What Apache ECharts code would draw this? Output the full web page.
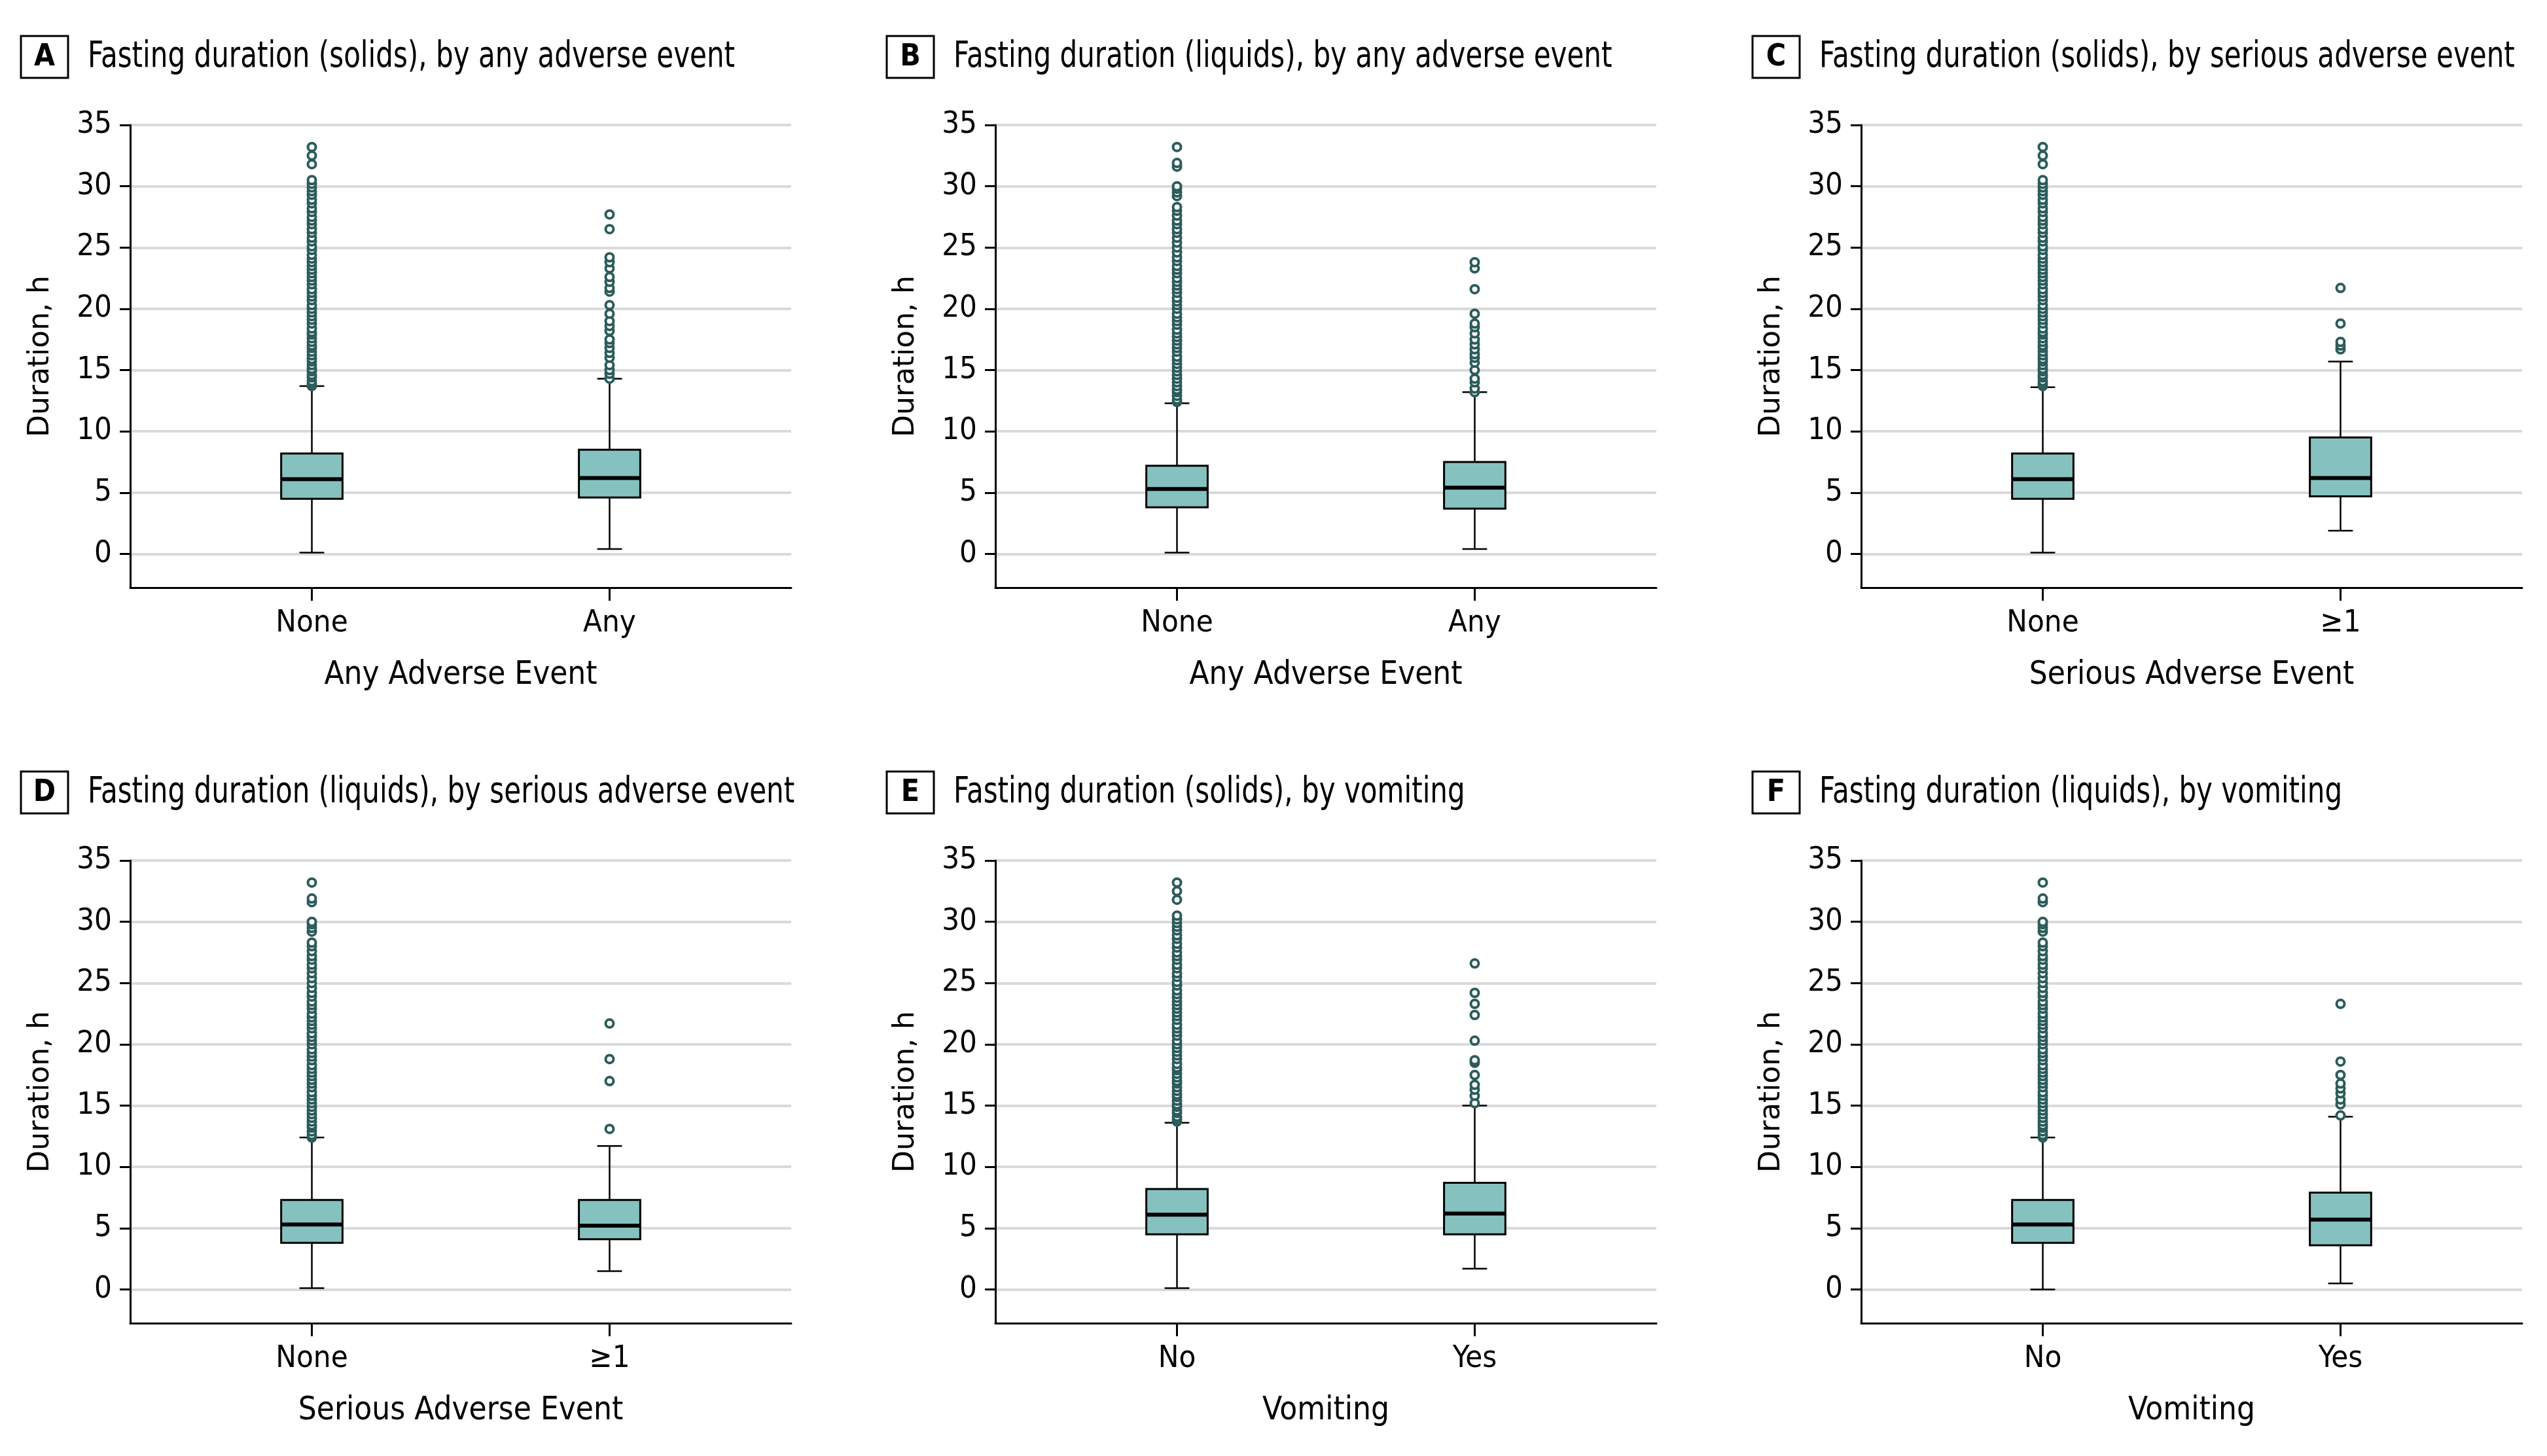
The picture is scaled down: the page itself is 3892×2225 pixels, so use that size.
<!DOCTYPE html>
<html>
<head>
<meta charset="utf-8">
<title>Fasting duration by adverse events</title>
<script src="https://cdn.jsdelivr.net/npm/echarts@6/dist/echarts.min.js"></script>
<style>
  html, body { margin: 0; padding: 0; background: #fff; }
  #chart { width: 3892px; height: 2225px; }
</style>
</head>
<body>
<div id="chart"></div>
<script>
// categories
const catsAny = ['None', 'Any']
const catsSerious = ['None', '≥1']
const catsVomit = ['No', 'Yes']
const yTicks = [0, 5, 10, 15, 20, 25, 30, 35]

// box stats per group: [lower whisker, Q1, median, Q3, upper whisker]
const boxA = [[0.1, 4.5, 6.1, 8.2, 13.7], [0.4, 4.6, 6.2, 8.5, 14.3]]
const boxB = [[0.1, 3.8, 5.3, 7.2, 12.3], [0.4, 3.7, 5.4, 7.5, 13.2]]
const boxC = [[0.1, 4.5, 6.1, 8.2, 13.6], [1.9, 4.7, 6.2, 9.5, 15.7]]
const boxD = [[0.1, 3.8, 5.3, 7.3, 12.4], [1.5, 4.1, 5.2, 7.3, 11.7]]
const boxE = [[0.1, 4.5, 6.1, 8.2, 13.6], [1.7, 4.5, 6.2, 8.7, 15.0]]
const boxF = [[0.0, 3.8, 5.3, 7.3, 12.4], [0.5, 3.6, 5.7, 7.9, 14.1]]

// outliers
const solidsNoneOut = [13.7, 13.9, 14.1, 14.4, 14.6, 14.9, 15.1, 15.4, 15.7, 15.9, 16.2, 16.5, 16.8, 17.0,
  17.3, 17.6, 17.9, 18.1, 18.4, 18.8, 19.1, 19.4, 19.7, 20.0, 20.3, 20.7, 21.0, 21.3, 21.6, 22.0, 22.3,
  22.6, 22.9, 23.2, 23.5, 23.8, 24.1, 24.4, 24.8, 25.1, 25.5, 25.8, 26.2, 26.5, 26.9, 27.2, 27.5, 27.9,
  28.2, 28.6, 28.9, 29.3, 29.6, 29.9, 30.2, 30.5, 31.8, 32.5, 33.2]
const liquidsNoneOut = [12.4, 12.6, 12.9, 13.2, 13.4, 13.7, 14.0, 14.3, 14.6, 14.9, 15.2, 15.5, 15.8, 16.1,
  16.5, 16.8, 17.1, 17.4, 17.7, 18.0, 18.3, 18.7, 19.0, 19.3, 19.6, 20.0, 20.3, 20.6, 20.9, 21.3, 21.6,
  21.9, 22.2, 22.5, 22.9, 23.2, 23.5, 23.9, 24.2, 24.6, 25.0, 25.4, 25.8, 26.2, 26.5, 26.9, 27.2, 27.6,
  28.0, 28.3, 29.2, 29.5, 29.8, 30.0, 31.6, 31.9, 33.2]
const outAAny = [14.3, 14.7, 15.0, 15.4, 16.0, 16.4, 16.8, 17.2, 17.5, 18.2, 18.6, 19.0, 19.6, 20.3,
  21.4, 21.7, 22.2, 22.6, 23.3, 23.8, 24.2, 26.5, 27.7]
const outBAny = [13.2, 13.5, 14.0, 14.3, 15.0, 15.6, 16.0, 16.3, 16.7, 17.1, 17.5, 18.0, 18.5, 18.8,
  19.6, 21.6, 23.3, 23.8]
const outCSerious = [16.7, 17.0, 17.3, 18.8, 21.7]
const outDSerious = [13.1, 17.0, 18.8, 21.7]
const outEYes = [15.2, 15.8, 16.3, 16.7, 17.5, 18.5, 18.7, 20.3, 22.4, 23.3, 24.2, 26.6]
const outFYes = [14.2, 15.1, 15.5, 16.0, 16.4, 16.8, 17.5, 18.6, 23.3]

const panels = [
  { letter: 'A', title: 'Fasting duration (solids), by any adverse event', xName: 'Any Adverse Event', cats: catsAny, box: boxA, out: [solidsNoneOut, outAAny] },
  { letter: 'B', title: 'Fasting duration (liquids), by any adverse event', xName: 'Any Adverse Event', cats: catsAny, box: boxB, out: [liquidsNoneOut, outBAny] },
  { letter: 'C', title: 'Fasting duration (solids), by serious adverse event', xName: 'Serious Adverse Event', cats: catsSerious, box: boxC, out: [solidsNoneOut, outCSerious] },
  { letter: 'D', title: 'Fasting duration (liquids), by serious adverse event', xName: 'Serious Adverse Event', cats: catsSerious, box: boxD, out: [liquidsNoneOut, outDSerious] },
  { letter: 'E', title: 'Fasting duration (solids), by vomiting', xName: 'Vomiting', cats: catsVomit, box: boxE, out: [solidsNoneOut, outEYes] },
  { letter: 'F', title: 'Fasting duration (liquids), by vomiting', xName: 'Vomiting', cats: catsVomit, box: boxF, out: [liquidsNoneOut, outFYes] }
]

const FONT = "'DejaVu Sans Condensed', 'Liberation Sans Narrow', sans-serif"
const BOX_W = 0.206
const CAP_W = 0.083
const colLeft = [199, 1521, 2844]
const rowTop = [191, 1315]
const plotW = 1010
const plotH = 707

function renderBox(params, api) {
  const x = api.value(0)
  const lo = api.coord([x, api.value(1)])
  const q1 = api.coord([x, api.value(2)])
  const md = api.coord([x, api.value(3)])
  const q3 = api.coord([x, api.value(4)])
  const hi = api.coord([x, api.value(5)])
  const half = api.size([BOX_W, 0])[0] / 2
  const cap = api.size([CAP_W, 0])[0] / 2
  const cx = lo[0]
  const ln = { stroke: '#000', lineWidth: 2.5 }
  return {
    type: 'group',
    children: [
      { type: 'line', shape: { x1: cx, y1: lo[1], x2: cx, y2: q1[1] }, style: ln },
      { type: 'line', shape: { x1: cx, y1: q3[1], x2: cx, y2: hi[1] }, style: ln },
      { type: 'line', shape: { x1: cx - cap, y1: lo[1], x2: cx + cap, y2: lo[1] }, style: ln },
      { type: 'line', shape: { x1: cx - cap, y1: hi[1], x2: cx + cap, y2: hi[1] }, style: ln },
      { type: 'rect', shape: { x: cx - half, y: q3[1], width: half * 2, height: q1[1] - q3[1] },
        style: { fill: '#85c2bf', stroke: '#000', lineWidth: 3 } },
      { type: 'line', shape: { x1: cx - half, y1: md[1], x2: cx + half, y2: md[1] },
        style: { stroke: '#000', lineWidth: 6 } }
    ]
  }
}

const grid = []
const xAxis = []
const yAxis = []
const series = []
const graphic = []

panels.forEach((p, i) => {
  const col = i % 3
  const row = Math.floor(i / 3)
  grid.push({ left: colLeft[col], top: rowTop[row], width: plotW, height: plotH })
  xAxis.push({
    gridIndex: i,
    type: 'value',
    min: -0.61,
    max: 1.61,
    name: p.xName,
    nameLocation: 'middle',
    nameGap: 110,
    nameTextStyle: { fontSize: 49, color: '#000', fontFamily: FONT },
    axisLine: { onZero: false, lineStyle: { color: '#000', width: 3 } },
    axisTick: { customValues: [0, 1], length: 20, lineStyle: { color: '#000', width: 3 } },
    axisLabel: {
      customValues: [0, 1],
      fontSize: 47,
      color: '#000',
      fontFamily: FONT,
      margin: 31,
      formatter: v => p.cats[Math.round(v)]
    },
    splitLine: { show: false }
  })
  yAxis.push({
    gridIndex: i,
    type: 'value',
    min: -2.75,
    max: 35,
    name: 'Duration, h',
    nameLocation: 'middle',
    nameRotate: 90,
    nameGap: 114,
    nameTextStyle: { fontSize: 44, color: '#000', fontFamily: 'DejaVu Sans' },
    axisLine: { onZero: false, lineStyle: { color: '#000', width: 3 } },
    axisTick: { customValues: yTicks, length: 16, lineStyle: { color: '#000', width: 3 } },
    axisLabel: { customValues: yTicks, fontSize: 47, color: '#000', fontFamily: FONT, margin: 28 },
    splitLine: { show: true, lineStyle: { color: '#dadada', width: 4 } }
  })
  series.push({
    type: 'custom',
    xAxisIndex: i,
    yAxisIndex: i,
    renderItem: renderBox,
    encode: { x: 0, y: [1, 2, 3, 4, 5] },
    data: p.box.map((b, k) => [k].concat(b)),
    z: 3
  })
  const pts = []
  p.out.forEach((arr, k) => arr.forEach(v => pts.push([k, v])))
  series.push({
    type: 'scatter',
    xAxisIndex: i,
    yAxisIndex: i,
    symbol: 'circle',
    symbolSize: 12,
    itemStyle: { color: '#ffffff', borderColor: '#2b5c5a', borderWidth: 4, opacity: 1 },
    data: pts,
    z: 4
  })
  const bx = 32 + col * 1323
  const by = 55 + row * 1124
  graphic.push({
    type: 'rect',
    shape: { x: bx, y: by, width: 72, height: 64 },
    style: { fill: '#fff', stroke: '#000', lineWidth: 3 }
  })
  graphic.push({
    type: 'text',
    x: bx + 36,
    y: by + 33,
    style: { text: p.letter, fontSize: 46, fontWeight: 'bold', fontFamily: FONT, fill: '#000', align: 'center', verticalAlign: 'middle' }
  })
  graphic.push({
    type: 'text',
    x: bx + 102,
    y: by + 33,
    scaleX: 0.85,
    style: { text: p.title, fontSize: 55, fontFamily: FONT, fill: '#000', align: 'left', verticalAlign: 'middle' }
  })
})

const chart = echarts.init(document.getElementById('chart'))
chart.setOption({
  animation: false,
  backgroundColor: '#fff',
  textStyle: { fontFamily: FONT },
  grid: grid,
  xAxis: xAxis,
  yAxis: yAxis,
  series: series,
  graphic: graphic
})
</script>
</body>
</html>
